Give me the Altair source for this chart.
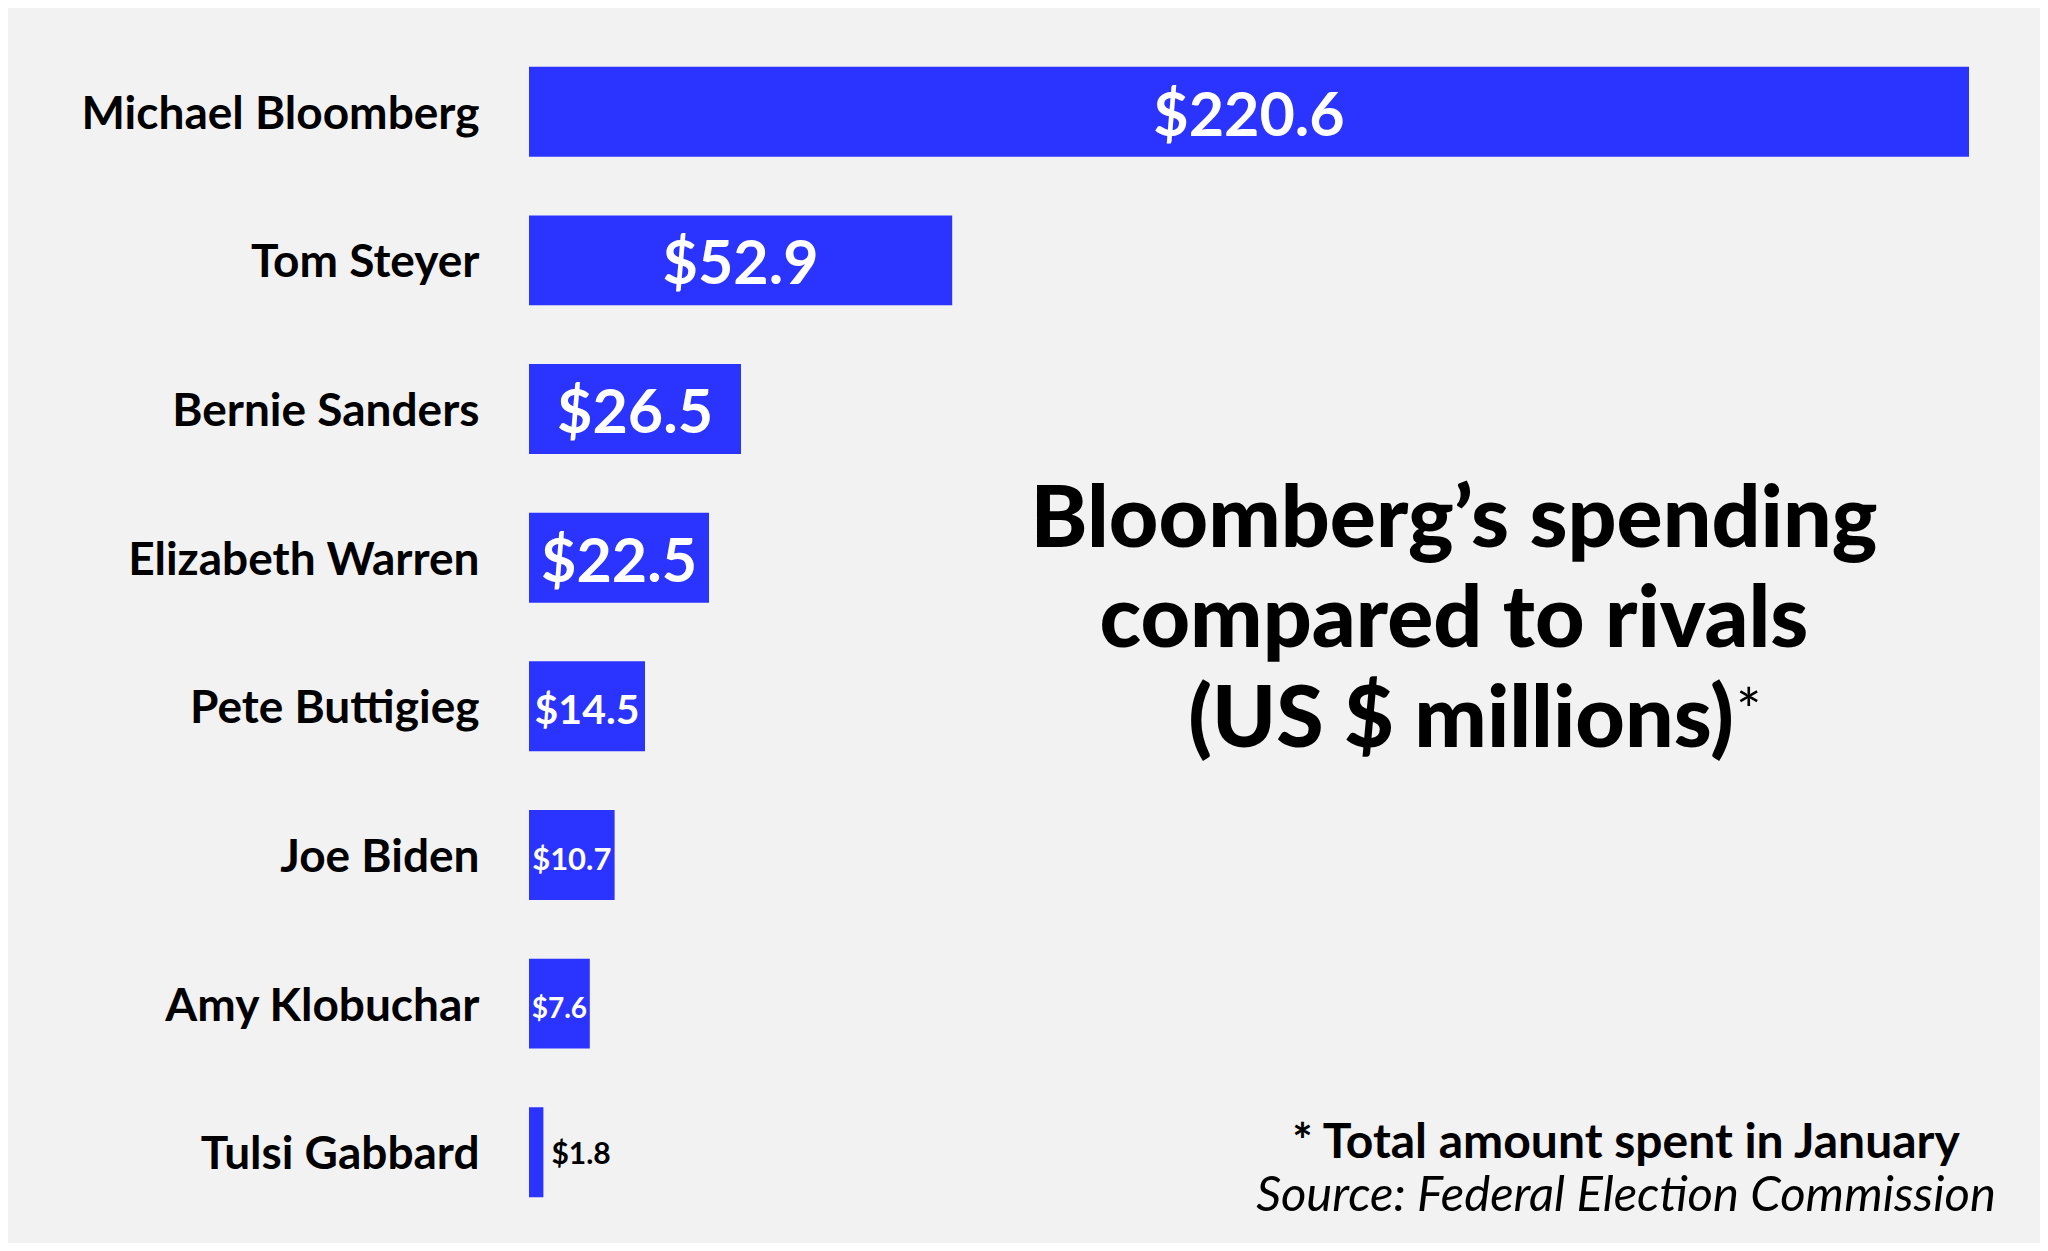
import altair as alt
import pandas as pd

# ---- data ----
names = ["Michael Bloomberg", "Tom Steyer", "Bernie Sanders", "Elizabeth Warren",
         "Pete Buttigieg", "Joe Biden", "Amy Klobuchar", "Tulsi Gabbard"]
spending = [220.6, 52.9, 26.5, 22.5, 14.5, 10.7, 7.6, 1.8]
title_lines = ["Bloomberg’s spending", "compared to rivals", "(US $ millions)"]
title_mark = "*"
note_text = "* Total amount spent in January"
source_text = "Source: Federal Election Commission"
x_max = 180  # axis limit; the Bloomberg bar is cut off at the edge

df = pd.DataFrame({"name": names, "value": spending})

BLUE = "#2B33FE"
BG = "#F2F2F2"
FONT = "Lato"

base = alt.Chart(df)

y_enc = alt.Y(
    "name:N", sort=names, title=None,
    scale=alt.Scale(paddingInner=0.395, paddingOuter=0.2),
    axis=alt.Axis(labelFont=FONT, labelFontSize=46, labelFontWeight="bold",
                  labelColor="#000000", labelPadding=50, labelOffset=3,
                  ticks=False, domain=False, grid=False, labelLimit=700),
)
x_scale = alt.Scale(domain=[0, x_max], clamp=True, nice=False, zero=True)

bars = base.mark_bar(color=BLUE).encode(
    x=alt.X("value:Q", scale=x_scale, axis=None),
    y=y_enc,
)

inside = base.transform_filter("datum.value >= 5").transform_calculate(
    mid=f"min(datum.value, {x_max}) / 2",
    label="'$' + format(datum.value, '.1f')",
).mark_text(font=FONT, fontWeight="bold", color="white", align="center",
            baseline="middle", dy=6).encode(
    x=alt.X("mid:Q", scale=x_scale, axis=None),
    y=y_enc,
    text="label:N",
    size=alt.Size("value:Q", legend=None,
                  scale=alt.Scale(type="threshold", domain=[9, 12, 20],
                                  range=[28, 31, 41, 61])),
)

outside = base.transform_filter("datum.value < 5").transform_calculate(
    label="'$' + format(datum.value, '.1f')",
).mark_text(font=FONT, fontWeight="bold", color="black", align="left",
            baseline="middle", dx=8, dy=3, fontSize=30).encode(
    x=alt.X("value:Q", scale=x_scale, axis=None),
    y=y_enc,
    text="label:N",
)


def annot(text, x, y, **kw):
    return alt.Chart(alt.Data(values=[{"t": text}])).mark_text(font=FONT, **kw).encode(
        x=alt.value(x), y=alt.value(y), text="t:N")


t1 = annot(title_lines[0], 925, 510, fontSize=86, fontWeight=900, color="black",
           align="center", baseline="alphabetic")
t2 = annot(title_lines[1], 925, 610, fontSize=86, fontWeight=900, color="black",
           align="center", baseline="alphabetic")
t3 = annot(title_lines[2], 932, 710, fontSize=86, fontWeight=900, color="black",
           align="center", baseline="alphabetic")
t4 = annot(title_mark, 1207, 648, fontSize=60, fontWeight="normal", color="black",
           align="left", baseline="top")
n1 = annot(note_text, 1097, 1121, fontSize=48, fontWeight="bold", color="black",
           align="center", baseline="alphabetic")
n2 = annot(source_text, 1097, 1174, fontSize=49, fontStyle="italic", color="black",
           align="center", baseline="alphabetic")

chart = alt.layer(bars, inside, outside, t1, t2, t3, t4, n1, n2).properties(
    width=1440, height=1190,
    autosize=alt.AutoSizeParams(type="none"),
    padding={"left": 521, "top": 29, "right": 71, "bottom": 16},
    background=BG,
).configure_view(stroke=None)

chart.save("out.html", embed_options={"renderer": "svg", "actions": False})
